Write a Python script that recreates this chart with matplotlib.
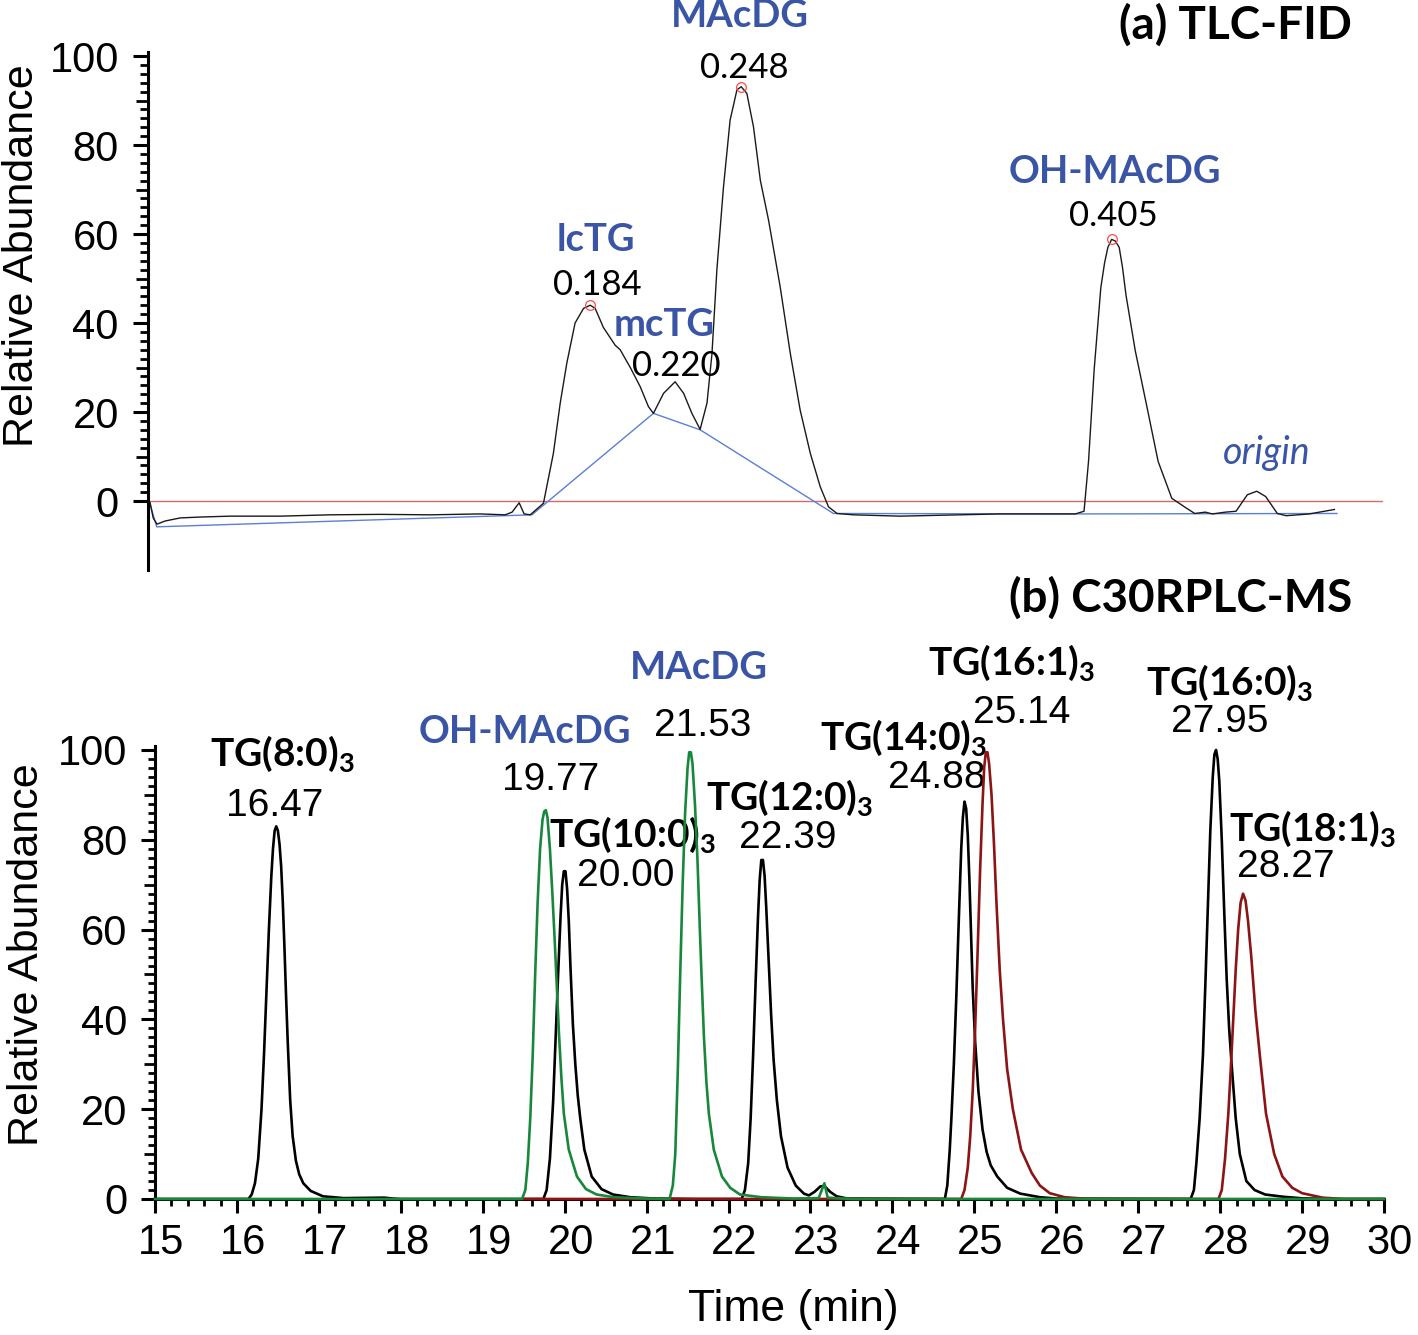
import numpy as np
import matplotlib
matplotlib.use("Agg")
import matplotlib.pyplot as plt
from matplotlib.ticker import FixedLocator, MultipleLocator
from matplotlib.transforms import ScaledTranslation

# ---- (a) TLC-FID trace (Rf, relative abundance) ----
rf_fid = [-0.0025, -0.0012, 0.0004, 0.0038, 0.0102, 0.0187, 0.0314, 0.0526, 0.0738, 0.0950,
          0.1162, 0.1374, 0.1480, 0.1509, 0.1539, 0.1560, 0.1586, 0.1642, 0.1684, 0.1713,
          0.1741, 0.1776, 0.1812, 0.184, 0.1861, 0.1896, 0.1946, 0.1967, 0.2010, 0.2052,
          0.2087, 0.2108, 0.2151, 0.220, 0.2236, 0.2271, 0.2306, 0.2335, 0.2356, 0.2377,
          0.2405, 0.2433, 0.2462, 0.248, 0.2504, 0.2532, 0.2561, 0.2596, 0.2645, 0.2688,
          0.2730, 0.2773, 0.2815, 0.2850, 0.2886, 0.2956, 0.3154, 0.3408, 0.3578, 0.3748,
          0.3896, 0.3933, 0.3952, 0.3976, 0.4004, 0.4020, 0.4034, 0.405, 0.4066, 0.4082,
          0.4096, 0.4111, 0.4150, 0.4199, 0.4247, 0.4305, 0.4364, 0.4402, 0.4447, 0.4477,
          0.4532, 0.4577, 0.4625, 0.4665, 0.4703, 0.4752, 0.4790, 0.4888, 0.4994]
ab_fid = [-0.4, -3.8, -5.2, -4.5, -3.8, -3.6, -3.4, -3.4, -3.1, -3.0,
          -3.1, -2.9, -3.1, -2.5, -0.4, -2.9, -3.1, -0.5, 10.7, 22,
          31, 40, 43.3, 44, 43.3, 39, 35, 34, 30, 25.7,
          21.2, 19.7, 24.2, 26.8, 24.2, 19.7, 16.1, 22, 33, 52,
          70.6, 85.6, 92.4, 93.1, 91.6, 84.1, 72.1, 63.1, 48.2, 33.2,
          20.4, 10.7, 3.2, -1.3, -2.8, -3.1, -3.4, -3.1, -2.9, -2.9,
          -2.9, -2.3, 8.9, 29.6, 47.9, 53.5, 57, 58.8, 58.4, 57,
          52.5, 46.2, 33.8, 21.3, 8.9, 0.6, -1.5, -2.8, -2.5, -2.9,
          -2.5, -2.3, 1.4, 2.2, 1.0, -2.8, -3.3, -2.9, -1.9]

# integration baseline drawn by the FID software
rf_base = [-0.0028, 0.0003, 0.1593, 0.2108, 0.2306, 0.2871, 0.3930, 0.5005]
ab_base = [-0.2, -5.8, -3.1, 19.7, 16.0, -2.8, -2.9, -2.8]

fid_names = ["lcTG", "mcTG", "MAcDG", "OH-MAcDG"]
fid_rf = [0.184, 0.220, 0.248, 0.405]
fid_top = [44, 26.8, 93.1, 58.8]
fid_circled = [True, False, True, True]
origin_rf, origin_top = 0.4665, 2.2

# ---- (b) C30RPLC-MS traces (time, relative abundance) ----
rt_black = [15.0, 16.10, 16.14, 16.18, 16.22, 16.26, 16.30, 16.33, 16.36, 16.39,
            16.42, 16.44, 16.46, 16.48, 16.50, 16.52, 16.54, 16.56, 16.58, 16.60,
            16.62, 16.65, 16.68, 16.72, 16.76, 16.81, 16.90, 17.05, 17.30, 17.80,
            17.90, 18.00,
            19.74, 19.78, 19.82, 19.86, 19.89, 19.92, 19.95, 19.97, 19.99, 20.01,
            20.03, 20.05, 20.07, 20.10, 20.13, 20.16, 20.19, 20.24, 20.33, 20.45,
            20.59, 20.80, 21.10, 21.60,
            22.16, 22.20, 22.24, 22.27, 22.30, 22.33, 22.36, 22.38, 22.40, 22.42,
            22.44, 22.46, 22.49, 22.52, 22.55, 22.59, 22.64, 22.72, 22.82, 22.92,
            22.98, 23.05, 23.12, 23.17, 23.24, 23.32, 23.45,
            24.64, 24.67, 24.70, 24.72, 24.75, 24.78, 24.81, 24.84, 24.86, 24.88,
            24.90, 24.92, 24.94, 24.96, 24.98, 25.01, 25.05, 25.10, 25.15, 25.20,
            25.28, 25.40, 25.56, 25.80, 26.00,
            27.64, 27.68, 27.71, 27.75, 27.79, 27.82, 27.85, 27.88, 27.91, 27.93,
            27.95, 27.97, 27.99, 28.02, 28.05, 28.08, 28.11, 28.14, 28.19, 28.24,
            28.32, 28.42, 28.55, 28.77, 29.00, 29.40, 30.0]
ab_black = [0, 0, 0, 1, 3.5, 9, 20, 32, 46, 60,
            72, 78, 82, 83, 82, 79, 74, 66, 56, 45,
            35, 22, 14, 8.5, 5.5, 3.5, 1.8, 0.6, 0.2, 0.3,
            0.1, 0,
            0, 2, 9, 22, 36, 50, 63, 70, 73, 73,
            69, 62, 52, 39, 30, 23, 18, 11, 5, 2.2,
            1, 0.4, 0.1, 0,
            0, 2, 8, 18, 32, 48, 63, 71, 75.5, 75.5,
            72, 65, 53, 41, 31, 22, 14, 7, 3, 1.2,
            0.8, 1.6, 2.8, 2.9, 1.6, 0.6, 0.1,
            0, 3, 11, 18, 30, 45, 62, 78, 85, 88.5,
            87, 81, 71, 59, 47, 35, 24, 15.5, 10.5, 7.5,
            5, 2.5, 1.2, 0.4, 0.1,
            0, 2, 8, 18, 32, 48, 65, 82, 94, 99,
            100, 98, 93, 80, 64, 49, 38, 30, 18, 10,
            4, 2, 1, 0.5, 0.15, 0, 0]

rt_green = [15.0, 19.48, 19.52, 19.55, 19.58, 19.61, 19.64, 19.67, 19.70, 19.73,
            19.75, 19.77, 19.79, 19.82, 19.85, 19.88, 19.90, 19.93, 19.96, 19.99,
            20.05, 20.15, 20.26, 20.39, 20.60, 21.00,
            21.28, 21.32, 21.35, 21.38, 21.41, 21.44, 21.47, 21.50, 21.52, 21.54,
            21.56, 21.59, 21.62, 21.65, 21.67, 21.70, 21.73, 21.76, 21.82, 21.92,
            22.02, 22.14, 22.40, 22.80, 23.10, 23.17, 23.21, 23.50, 30.0]
ab_green = [0, 0, 2, 8, 18, 32, 50, 66, 78, 84.5,
            86.3, 86.6, 85, 78, 68, 57, 49, 37, 27, 19,
            11, 5, 2.2, 1, 0.4, 0.1,
            0, 3, 10, 28, 50, 70, 86, 96, 99.5, 99.5,
            97, 88, 76, 60, 50, 36, 26, 19, 11, 5,
            2.5, 1, 0.4, 0.1, 0.2, 3.5, 0.3, 0, 0]

rt_red = [19.50, 24.84, 24.88, 24.92, 24.95, 24.98, 25.01, 25.04, 25.07, 25.10,
          25.12, 25.14, 25.16, 25.18, 25.21, 25.24, 25.27, 25.31, 25.35, 25.40,
          25.47, 25.57, 25.70, 25.80, 25.92, 26.10, 26.40,
          27.98, 28.02, 28.06, 28.10, 28.13, 28.16, 28.19, 28.22, 28.25, 28.28,
          28.31, 28.34, 28.38, 28.43, 28.49, 28.56, 28.66, 28.76, 28.88, 29.00,
          29.25, 29.50, 30.0]
ab_red = [0, 0, 2, 7, 14, 24, 38, 55, 73, 88,
          96, 99.5, 99.5, 97, 90, 79, 66, 51, 40, 29,
          20, 11, 5.8, 3, 1.3, 0.4, 0,
          0, 2, 9, 19, 29, 40, 51, 60, 66, 68,
          66.5, 62, 54, 42, 31, 19, 10, 5, 2.5, 1.3,
          0.3, 0, 0]

ms_rt = [16.47, 19.77, 20.00, 21.53, 22.39, 24.88, 25.14, 27.95, 28.27]
ms_top = [83, 86.6, 73.3, 100, 76, 88.5, 100, 100, 68]
ms_names = [r"TG(8:0)$_\mathbf{3}$", "OH-MAcDG", r"TG(10:0)$_\mathbf{3}$", "MAcDG",
            r"TG(12:0)$_\mathbf{3}$", r"TG(14:0)$_\mathbf{3}$", r"TG(16:1)$_\mathbf{3}$",
            r"TG(16:0)$_\mathbf{3}$", r"TG(18:1)$_\mathbf{3}$"]
ms_blue = [False, True, False, True, False, False, False, False, False]

# ---- style ----
plt.rcParams["font.family"] = ["Liberation Sans", "DejaVu Sans"]
plt.rcParams["mathtext.fontset"] = "custom"
plt.rcParams["mathtext.rm"] = "Lato"
plt.rcParams["mathtext.bf"] = "Lato:bold"

BLUE_TXT = "#3a55a5"
BASE_BLUE = "#5b7fd6"
GREEN = "#17883a"
DARKRED = "#8c1414"
TICK_FS = 30

W, H = 1418, 1335
fig = plt.figure(figsize=(W / 100, H / 100), dpi=100)


def box(left, right, top, bottom):
    return [left / W, 1 - bottom / H, (right - left) / W, (bottom - top) / H]


# ================= (a) TLC-FID =================
ax1 = fig.add_axes(box(148, 1383, 52, 570))
ax1.plot(rf_fid, ab_fid, color="#1a1a1a", lw=1.0, zorder=3)
ax1.plot(rf_base, ab_base, color=BASE_BLUE, lw=1.0, zorder=2)
ax1.axhline(0, color="#d46a6a", lw=1.0, zorder=1)
for rf, top, circ in zip(fid_rf, fid_top, fid_circled):
    if circ:
        ax1.plot(rf, top, "o", ms=7, mfc="none", mec="#ff4a4a", mew=0.9, zorder=4)

ax1.set_xlim(-0.0034, 0.520)
ax1.set_ylim(-15.5, 100.9)
for s in ["top", "right", "bottom"]:
    ax1.spines[s].set_visible(False)
ax1.spines["left"].set_linewidth(2.2)
ax1.set_xticks([])
ax1.yaxis.set_major_locator(FixedLocator(np.arange(0, 101, 20)))
ax1.yaxis.set_minor_locator(FixedLocator([v for v in range(0, 101, 2) if v % 10 != 0]))
ax1.tick_params(axis="y", which="major", length=11, width=2.2, pad=10, labelsize=TICK_FS)
ax1.tick_params(axis="y", which="minor", length=6, width=2.0)
sec1 = ax1.secondary_yaxis("left")
sec1.spines["left"].set_visible(False)
sec1.set_yticks([10, 30, 50, 70, 90])
sec1.set_yticklabels([])
sec1.tick_params(axis="y", length=9, width=2.0)

# peak labels (offsets in pixels from apex)
name_off = [(6, 65), (-11, 57), (-1, 71), (3, 67)]
num_off = [(7, 20), (1, 16), (3, 19), (2, 23)]
for name, rf, top, no, vo in zip(fid_names, fid_rf, fid_top, name_off, num_off):
    ax1.annotate(name, xy=(rf, top), xytext=no, textcoords="offset pixels",
                 ha="center", va="center", fontsize=27.5, fontweight="bold",
                 family="Lato", color=BLUE_TXT, annotation_clip=False)
    ax1.annotate(f"{rf:.3f}", xy=(rf, top), xytext=vo, textcoords="offset pixels",
                 ha="center", va="center", fontsize=25, family="Lato", color="black",
                 annotation_clip=False)
ax1.annotate("origin", xy=(origin_rf, origin_top), xytext=(10, 38),
             textcoords="offset pixels", ha="center", va="center", fontsize=27,
             family="Lato", style="italic", color=BLUE_TXT)

# ================= (b) C30RPLC-MS =================
ax2 = fig.add_axes(box(155, 1384, 745.5, 1199))
ax2.plot(rt_black, ab_black, color="black", lw=1.9, clip_on=False, zorder=3,
         solid_joinstyle="round")
ax2.plot(rt_red, ab_red, color=DARKRED, lw=1.9, clip_on=False, zorder=4,
         solid_joinstyle="round")
ax2.plot(rt_green, ab_green, color=GREEN, lw=1.9, clip_on=False, zorder=5,
         solid_joinstyle="round")
ax2.set_xlim(15, 30)
ax2.set_ylim(0, 101)
for s in ["top", "right"]:
    ax2.spines[s].set_visible(False)
for s in ["left", "bottom"]:
    ax2.spines[s].set_linewidth(2.2)
ax2.xaxis.set_major_locator(MultipleLocator(1))
ax2.xaxis.set_minor_locator(MultipleLocator(0.2))
ax2.yaxis.set_major_locator(FixedLocator(np.arange(0, 101, 20)))
ax2.yaxis.set_minor_locator(FixedLocator([v for v in range(0, 101, 2) if v % 10 != 0]))
ax2.tick_params(which="major", length=10, width=2.2, pad=10, labelsize=TICK_FS)
ax2.tick_params(axis="x", which="major", pad=7)
ax2.tick_params(which="minor", length=5, width=2.0)
shift = ScaledTranslation(6 / 100, 0, fig.dpi_scale_trans)
for lab in ax2.get_xticklabels():
    lab.set_transform(lab.get_transform() + shift)
sec2 = ax2.secondary_yaxis("left")
sec2.spines["left"].set_visible(False)
sec2.set_yticks([10, 30, 50, 70, 90])
sec2.set_yticklabels([])
sec2.tick_params(axis="y", length=8, width=2.0)

ms_name_off = [(-65, 61), (-21, 78), (-16, 23), (9, 82), (-54, 48),
               (-145, 52), (-58, 75), (-70, 55), (-13, 53)]
ms_num_off = [(-1, 20), (5, 30), (61, -6), (13, 24), (27, 20),
              (-28, 24), (36, 37), (4, 28), (44, 27)]
for name, rt, top, blue, no, vo in zip(ms_names, ms_rt, ms_top, ms_blue,
                                       ms_name_off, ms_num_off):
    if blue:
        ax2.annotate(name, xy=(rt, top), xytext=no, textcoords="offset pixels",
                     ha="center", va="center", fontsize=27.5, fontweight="bold",
                     family="Lato", color=BLUE_TXT, annotation_clip=False)
    else:
        ax2.annotate(name, xy=(rt, top), xytext=no, textcoords="offset pixels",
                     ha="left", va="baseline", fontsize=28, fontweight="bold",
                     family="Lato", color="black", annotation_clip=False)
    ax2.annotate(f"{rt:.2f}", xy=(rt, top), xytext=vo, textcoords="offset pixels",
                 ha="center", va="center", fontsize=28, color="black",
                 annotation_clip=False)

# axis titles and panel titles
fig.text(22 / W, 1 - 256 / H, "Relative Abundance", rotation=90, ha="center",
         va="center", fontsize=31)
fig.text(27 / W, 1 - 955 / H, "Relative Abundance", rotation=90, ha="center",
         va="center", fontsize=31)
fig.text(793 / W, 1 - 1310 / H, "Time (min)", ha="center", va="center", fontsize=32)
fig.text(1352 / W, 1 - 25 / H, "(a) TLC-FID", ha="right", va="center",
         fontsize=33, fontweight="bold", family="Lato")
fig.text(1352 / W, 1 - 598 / H, "(b) C30RPLC-MS", ha="right", va="center",
         fontsize=33, fontweight="bold", family="Lato")

fig.savefig("out.png", dpi=100)
